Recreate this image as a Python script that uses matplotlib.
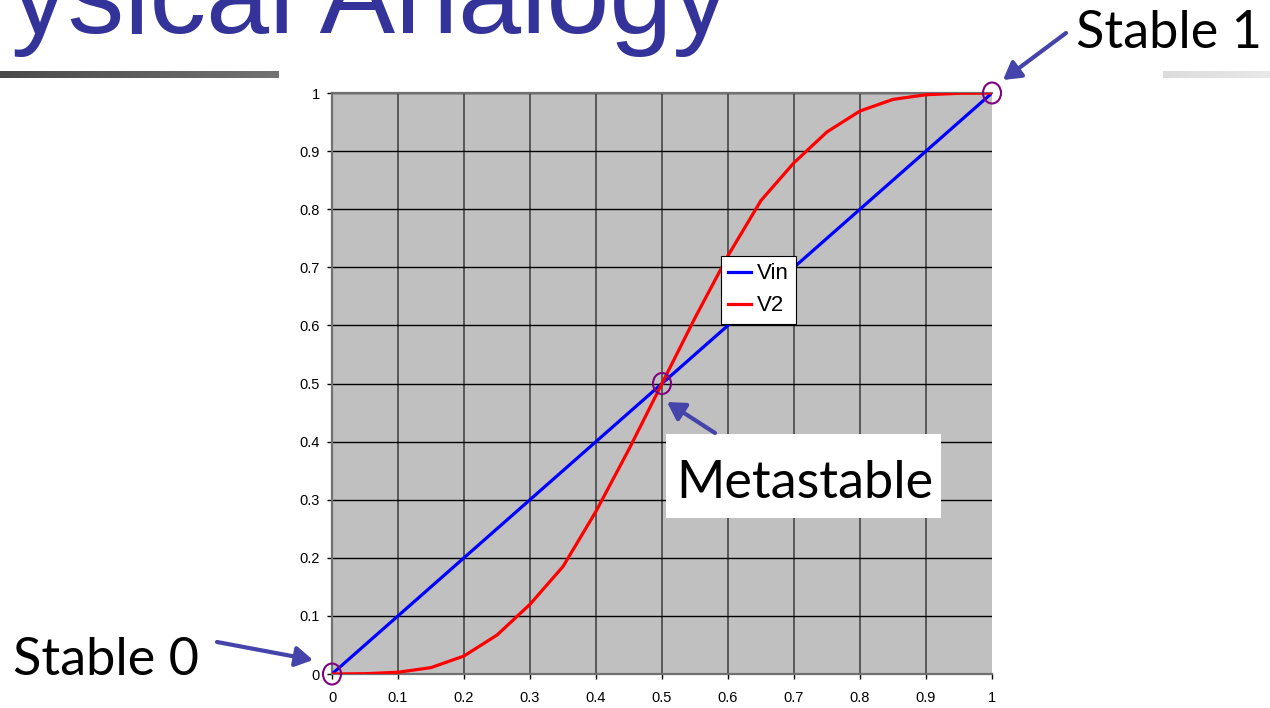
import numpy as np
import matplotlib
matplotlib.use("Agg")
import matplotlib.pyplot as plt
from matplotlib.patches import Ellipse, Rectangle
from matplotlib.colors import LinearSegmentedColormap

# ---- data ----
x_vals = [0, 0.05, 0.1, 0.15, 0.2, 0.25, 0.3, 0.35, 0.4, 0.45, 0.5,
          0.55, 0.6, 0.65, 0.7, 0.75, 0.8, 0.85, 0.9, 0.95, 1.0]
vin = [0, 0.05, 0.1, 0.15, 0.2, 0.25, 0.3, 0.35, 0.4, 0.45, 0.5,
       0.55, 0.6, 0.65, 0.7, 0.75, 0.8, 0.85, 0.9, 0.95, 1.0]
v2 = [0, 0.0005, 0.003, 0.011, 0.031, 0.067, 0.12, 0.185, 0.28, 0.387, 0.5,
      0.613, 0.72, 0.815, 0.88, 0.933, 0.969, 0.989, 0.997, 0.9995, 1.0]
tick_vals = [0, 0.1, 0.2, 0.3, 0.4, 0.5, 0.6, 0.7, 0.8, 0.9, 1]
tick_labels = ["0", "0.1", "0.2", "0.3", "0.4", "0.5", "0.6", "0.7", "0.8", "0.9", "1"]
series_names = ["Vin", "V2"]
title_text = "ysical Analogy"
label_stable1 = "Stable 1"
label_stable0 = "Stable 0"
label_meta = "Metastable"

W, H = 1270, 708
fig = plt.figure(figsize=(W / 100, H / 100), dpi=100)
fig.patch.set_facecolor("white")

# ---- main chart ----
ax = fig.add_axes([332 / W, 1 - 674 / H, 660 / W, 581 / H], zorder=1)
ax.set_facecolor("#C0C0C0")
ax.plot(x_vals, vin, color="#0000FF", lw=2.3, label=series_names[0], zorder=3,
        solid_joinstyle="round")
ax.plot(x_vals, v2, color="#FF0000", lw=2.3, label=series_names[1], zorder=3,
        solid_joinstyle="round")
ax.set_xlim(0, 1)
ax.set_ylim(0, 1)
ax.set_xticks(tick_vals)
ax.set_yticks(tick_vals)
ax.set_xticklabels(tick_labels, fontfamily="Liberation Sans", fontsize=10.5)
ax.set_yticklabels(tick_labels, fontfamily="Liberation Sans", fontsize=10.5)
ax.tick_params(axis="both", direction="out", length=3.6, width=1, color="black")
ax.tick_params(axis="x", pad=9)
ax.tick_params(axis="y", pad=5)
ax.set_axisbelow(True)
ax.xaxis.grid(True, color="#505050", lw=1.3)
ax.yaxis.grid(True, color="#000000", lw=1.0)
ax.xaxis.get_gridlines()[-1].set_visible(False)
for side in ["top", "left", "bottom"]:
    ax.spines[side].set_color("#707070")
    ax.spines[side].set_linewidth(1.6)
ax.spines["right"].set_visible(False)

# circles at the equilibrium points (where Vin == V2)
for xv, a, b in zip(x_vals, vin, v2):
    if abs(a - b) < 1e-9:
        ax.add_patch(Ellipse((xv, a), 18 / 660, 21 / 581, facecolor="none",
                             edgecolor="#800080", lw=1.5, clip_on=False, zorder=5))

leg = ax.legend(loc="upper left", bbox_to_anchor=((721 - 332) / 660, (674 - 256) / 581),
                borderaxespad=0, frameon=True, fancybox=False, framealpha=1,
                edgecolor="black", prop={"family": "Liberation Sans", "size": 16},
                handlelength=1.0, handletextpad=0.3, labelspacing=0.5,
                borderpad=0.33)
leg.get_frame().set_linewidth(0.8)
leg.set_zorder(10)

# ---- overlay in pixel coords ----
ov = fig.add_axes([0, 0, 1, 1], zorder=5)
ov.patch.set_alpha(0)
ov.axis("off")

# gradient bars
cm_left = LinearSegmentedColormap.from_list("l", ["#4a4a4a", "#727272"])
cm_right = LinearSegmentedColormap.from_list("r", ["#dcdcdc", "#e8e8e8"])
grad = np.linspace(0, 1, 256).reshape(1, -1)
ov.imshow(grad, extent=(0, 279, 78, 71), aspect="auto", cmap=cm_left)
ov.imshow(grad, extent=(1163, 1270, 78, 71), aspect="auto", cmap=cm_right)

ov.set_xlim(0, W)
ov.set_ylim(H, 0)

# title (cut off at the top, as on the slide)
ov.text(11, 33, title_text, fontfamily="Liberation Sans", fontsize=81.5,
        color="#333399", va="baseline", ha="left")

label_font = dict(fontfamily="Lato", fontsize=37.6, color="black", va="baseline", ha="left")
ov.text(1076, 48, label_stable1, **label_font)
ov.text(13, 675, label_stable0, **label_font)
ov.add_patch(Rectangle((666, 434), 275, 84, facecolor="white", edgecolor="none"))
ov.text(676, 498, label_meta, **label_font)

arrow_kw = dict(arrowstyle="-|>,head_length=0.65,head_width=0.38", color="#4444AA",
                lw=3, mutation_scale=16, shrinkA=0, shrinkB=0)
ov.annotate("", xy=(1003, 80), xytext=(1066, 33), arrowprops=arrow_kw)
ov.annotate("", xy=(667, 402), xytext=(715, 433), arrowprops=arrow_kw)
ov.annotate("", xy=(313, 660), xytext=(217, 642), arrowprops=arrow_kw)

fig.savefig("out.png", dpi=100)
